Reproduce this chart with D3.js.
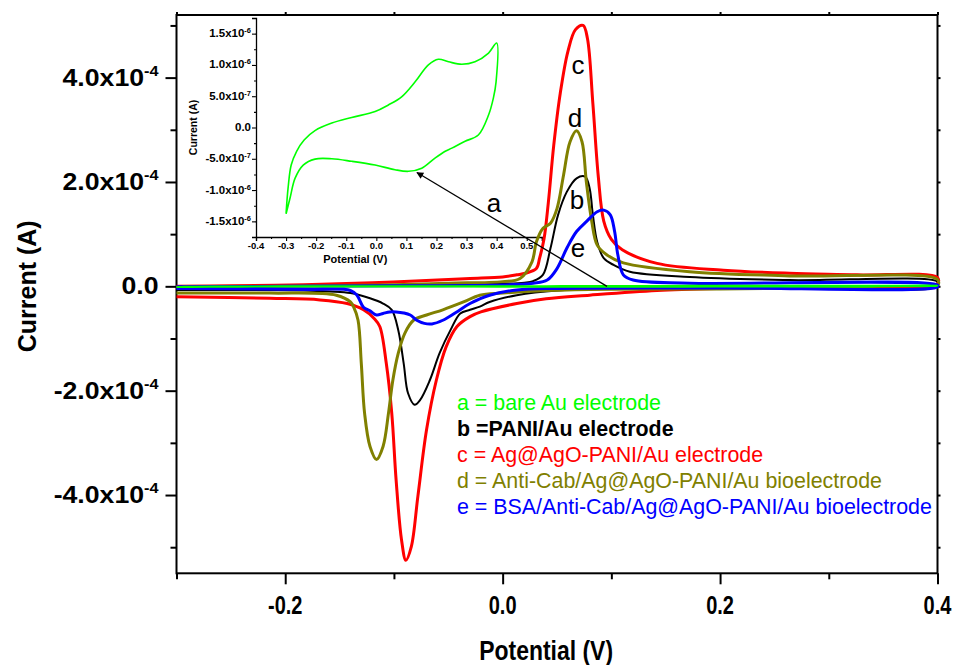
<!DOCTYPE html>
<html>
<head>
<meta charset="utf-8">
<script src="https://cdn.jsdelivr.net/npm/d3@7/dist/d3.min.js"></script>
<style>
  body { margin: 0; background: #fff; }
  svg text { font-family: Arial, "Liberation Sans", sans-serif; }
</style>
</head>
<body>
<svg id="chart" width="958" height="665"></svg>
<script>
// ---- data: [potential (V), current] ----
// main plot currents in units of 1e-4 A, inset currents in 1e-7 A
// each curve: forward sweep -0.3 -> 0.4 V, then back to -0.3 V

// a = bare Au electrode (also the inset curve)
var curveA = [
  [-0.300, -13.7], [-0.293, -9.5], [-0.283, -6.0], [-0.265, -3.8], [-0.240, -2.0],
  [-0.204, -0.5], [-0.148, 0.7], [-0.082, 1.6], [-0.004, 2.55], [0.040, 3.6],
  [0.084, 4.9], [0.129, 7.3], [0.173, 10.0], [0.206, 10.9], [0.240, 10.5],
  [0.284, 10.1], [0.328, 10.5], [0.373, 11.9], [0.400, 13.5],
  [0.398, 7.3], [0.389, 4.7], [0.373, 2.0], [0.339, -1.2], [0.295, -2.2],
  [0.251, -3.3], [0.229, -3.8], [0.195, -4.9], [0.151, -6.5], [0.107, -7.0],
  [0.062, -6.75], [-0.004, -6.0], [-0.082, -5.4], [-0.148, -5.0], [-0.204, -5.05],
  [-0.243, -6.0], [-0.270, -8.1], [-0.287, -11.3], [-0.300, -13.8]
];

// b = PANI/Au electrode
var curveB = [
  [-0.300, 0.00], [-0.200, 0.01], [-0.100, 0.02], [0.000, 0.05], [0.020, 0.07],
  [0.028, 0.10], [0.037, 0.22], [0.044, 0.73], [0.051, 1.37], [0.059, 1.81],
  [0.068, 2.07], [0.076, 2.10], [0.080, 1.88], [0.083, 1.37], [0.087, 0.85],
  [0.093, 0.54], [0.102, 0.41], [0.117, 0.28], [0.172, 0.18], [0.264, 0.12],
  [0.400, 0.09],
  [0.400, 0.02], [0.300, -0.03], [0.200, -0.04], [0.100, -0.05], [0.050, -0.08],
  [0.013, -0.17], [-0.012, -0.30], [-0.021, -0.39], [-0.030, -0.45], [-0.039, -0.52],
  [-0.048, -0.84], [-0.058, -1.28], [-0.067, -1.80], [-0.076, -2.18], [-0.081, -2.27],
  [-0.087, -2.05], [-0.091, -1.48], [-0.096, -0.84], [-0.102, -0.45], [-0.110, -0.33],
  [-0.122, -0.23], [-0.140, -0.13], [-0.159, -0.10], [-0.183, -0.08], [-0.300, -0.07]
];

// c = Ag@AgO-PANI/Au electrode
var curveC = [
  [-0.300, 0.00], [-0.250, 0.01], [-0.183, 0.03], [-0.120, 0.07], [-0.060, 0.12],
  [-0.030, 0.15], [0.000, 0.18], [0.013, 0.22], [0.021, 0.25], [0.031, 0.34],
  [0.034, 0.54], [0.038, 0.90], [0.042, 1.60], [0.047, 2.70], [0.053, 3.70],
  [0.060, 4.50], [0.067, 4.92], [0.074, 5.00], [0.078, 4.75], [0.083, 3.50],
  [0.088, 2.10], [0.093, 1.25], [0.100, 0.90], [0.110, 0.70], [0.142, 0.44],
  [0.203, 0.31], [0.264, 0.25], [0.326, 0.22], [0.400, 0.17],
  [0.400, 0.05], [0.330, -0.01], [0.264, -0.02], [0.203, -0.04], [0.142, -0.08],
  [0.080, -0.17], [0.040, -0.24], [0.013, -0.33], [-0.020, -0.49], [-0.030, -0.58],
  [-0.042, -0.77], [-0.052, -1.16], [-0.061, -1.80], [-0.070, -2.75], [-0.078, -4.03],
  [-0.084, -4.99], [-0.089, -5.25], [-0.093, -4.86], [-0.098, -3.71], [-0.102, -2.43],
  [-0.107, -1.48], [-0.113, -0.77], [-0.118, -0.62], [-0.128, -0.45], [-0.143, -0.33],
  [-0.168, -0.26], [-0.214, -0.23], [-0.300, -0.20]
];

// d = Anti-Cab/Ag@AgO-PANI/Au bioelectrode
var curveD = [
  [-0.300, -0.02], [-0.200, 0.00], [-0.100, 0.03], [-0.050, 0.06], [0.000, 0.09],
  [0.016, 0.15], [0.027, 0.47], [0.031, 0.85], [0.037, 1.11], [0.044, 1.21],
  [0.050, 1.49], [0.056, 2.13], [0.062, 2.77], [0.068, 2.98], [0.073, 2.77],
  [0.077, 2.00], [0.082, 1.24], [0.087, 0.79], [0.096, 0.60], [0.111, 0.45],
  [0.172, 0.28], [0.264, 0.20], [0.400, 0.13],
  [0.400, 0.01], [0.300, -0.03], [0.200, -0.05], [0.080, -0.06], [0.030, -0.09],
  [0.000, -0.13], [-0.021, -0.17], [-0.036, -0.30], [-0.055, -0.45], [-0.070, -0.55],
  [-0.082, -0.65], [-0.090, -0.90], [-0.096, -1.28], [-0.101, -1.80], [-0.105, -2.43],
  [-0.110, -3.07], [-0.116, -3.32], [-0.122, -3.07], [-0.127, -2.43], [-0.130, -1.48],
  [-0.133, -0.65], [-0.137, -0.40], [-0.140, -0.30], [-0.153, -0.17], [-0.214, -0.13],
  [-0.300, -0.13]
];

// e = BSA/Anti-Cab/Ag@AgO-PANI/Au bioelectrode
var curveE = [
  [-0.300, -0.01], [-0.200, 0.00], [-0.100, 0.01], [0.000, 0.025], [0.028, 0.06],
  [0.041, 0.12], [0.050, 0.34], [0.059, 0.73], [0.068, 1.05], [0.077, 1.24],
  [0.087, 1.43], [0.093, 1.46], [0.099, 1.37], [0.103, 1.05], [0.106, 0.60],
  [0.111, 0.22], [0.120, 0.12], [0.172, 0.06], [0.400, 0.025],
  [0.400, -0.01], [0.200, -0.03], [0.050, -0.04], [0.013, -0.07], [-0.012, -0.17],
  [-0.030, -0.33], [-0.043, -0.50], [-0.055, -0.65], [-0.065, -0.72], [-0.072, -0.71],
  [-0.079, -0.65], [-0.085, -0.55], [-0.091, -0.51], [-0.098, -0.49], [-0.104, -0.49],
  [-0.110, -0.52], [-0.116, -0.55], [-0.122, -0.47], [-0.128, -0.40], [-0.134, -0.17],
  [-0.140, -0.08], [-0.183, -0.06], [-0.300, -0.04]
];

var legendLabels = [
  'a = bare Au electrode',
  'b =PANI/Au electrode',
  'c = Ag@AgO-PANI/Au electrode',
  'd = Anti-Cab/Ag@AgO-PANI/Au bioelectrode',
  'e = BSA/Anti-Cab/Ag@AgO-PANI/Au bioelectrode'
];
var seriesColors = ['#00ff00', '#000000', '#ff0000', '#808000', '#0000ff'];

var xTicks = [-0.2, 0.0, 0.2, 0.4];
var xMinorTicks = [-0.3, -0.1, 0.1, 0.3];
var yTicks = [-4, -2, 0, 2, 4];
var yMinorTicks = [-5, -3, -1, 1, 3, 5];
var insetXTicks = [-0.4, -0.3, -0.2, -0.1, 0.0, 0.1, 0.2, 0.3, 0.4, 0.5];
var insetYTicks = [-15, -10, -5, 0, 5, 10, 15];

(function () {
  // ---- layout ----
  var svg = d3.select('#chart');
  var plotL = 176.5, plotR = 937.5, plotT = 15, plotB = 573.3;

  var x = d3.scaleLinear().domain([-0.3, 0.4]).range([plotL, plotR]);
  var y = d3.scaleLinear().domain([-5.5, 5.2]).range([plotB, plotT]);

  var xi = d3.scaleLinear().domain([-0.4, 0.55]).range([256, 541.8]);
  var yi = d3.scaleLinear().domain([-17.5, 17.5]).range([237, 18]);

  function fixed1(d) { return d.toFixed(1); }

  // "4.0x10" + superscript "-4"
  function sciLabel(sel, value, scale, supSize, supDy) {
    if (Math.abs(value) < 1e-12) { sel.text('0.0'); return; }
    var parts = (value * scale).toExponential(1).split('e');
    sel.append('tspan').text(parts[0] + 'x10');
    sel.append('tspan').attr('font-size', supSize).attr('dy', supDy).text(String(+parts[1]));
  }

  // ---- inset ----
  var inset = svg.append('g').attr('class', 'inset');

  inset.append('g')
    .attr('transform', 'translate(0,' + yi(-17.5) + ')')
    .call(d3.axisBottom(xi).tickValues(insetXTicks).tickSize(4).tickFormat(''));
  inset.append('g')
    .attr('transform', 'translate(0,' + yi(-17.5) + ')')
    .call(d3.axisBottom(xi).tickValues(d3.range(-0.35, 0.56, 0.1)).tickSize(2).tickFormat(''))
    .call(function (g) { g.select('.domain').remove(); });
  inset.append('g')
    .attr('transform', 'translate(' + xi(-0.4) + ',0)')
    .call(d3.axisLeft(yi).tickValues(insetYTicks).tickSize(4).tickFormat(''));
  inset.append('g')
    .attr('transform', 'translate(' + xi(-0.4) + ',0)')
    .call(d3.axisLeft(yi).tickValues([-17.5, -12.5, -7.5, -2.5, 2.5, 7.5, 12.5, 17.5]).tickSize(2).tickFormat(''))
    .call(function (g) { g.select('.domain').remove(); });
  inset.selectAll('.domain').attr('stroke-width', 1.3);
  inset.selectAll('line').attr('stroke-width', 1.1);

  inset.selectAll('text.ixt').data(insetXTicks).enter().append('text')
    .attr('class', 'ixt')
    .attr('x', function (d) { return xi(d); })
    .attr('y', yi(-17.5) + 12)
    .attr('text-anchor', 'middle')
    .attr('font-size', 9.5).attr('font-weight', 'bold')
    .text(fixed1);

  inset.selectAll('text.iyt').data(insetYTicks).enter().append('text')
    .attr('class', 'iyt')
    .attr('transform', function (d) { return 'translate(' + (xi(-0.4) - 5) + ',' + (yi(d) + 3.5) + ') scale(1.15,1)'; })
    .attr('text-anchor', 'end')
    .attr('font-size', 10).attr('font-weight', 'bold')
    .each(function (d) { sciLabel(d3.select(this), d, 1e-7, 6.5, -4); });

  inset.append('text')
    .attr('transform', 'translate(197,' + yi(0) + ') rotate(-90)')
    .attr('text-anchor', 'middle')
    .attr('font-size', 10.5).attr('font-weight', 'bold')
    .text('Current (A)');
  inset.append('text')
    .attr('x', xi(-0.07)).attr('y', 263)
    .attr('text-anchor', 'middle')
    .attr('font-size', 11).attr('font-weight', 'bold')
    .text('Potential (V)');

  var lineInset = d3.line()
    .x(function (d) { return xi(d[0]); })
    .y(function (d) { return yi(d[1]); })
    .curve(d3.curveCatmullRom.alpha(0.5));
  inset.append('path')
    .attr('d', lineInset(curveA))
    .attr('fill', 'none').attr('stroke', seriesColors[0]).attr('stroke-width', 1.6);

  // ---- main axes ----
  var axes = svg.append('g').attr('class', 'axes');
  axes.append('g')
    .attr('transform', 'translate(0,' + plotB + ')')
    .call(d3.axisBottom(x).tickValues(xTicks).tickSize(11).tickFormat(''));
  axes.append('g')
    .attr('transform', 'translate(0,' + plotB + ')')
    .call(d3.axisBottom(x).tickValues(xMinorTicks).tickSize(6).tickFormat(''));
  axes.append('g')
    .attr('transform', 'translate(' + plotL + ',0)')
    .call(d3.axisLeft(y).tickValues(yTicks).tickSize(11).tickFormat(''));
  axes.append('g')
    .attr('transform', 'translate(' + plotL + ',0)')
    .call(d3.axisLeft(y).tickValues(yMinorTicks).tickSize(6).tickFormat(''));
  // small mirrored ticks on top and right
  axes.append('g')
    .attr('transform', 'translate(0,' + plotT + ')')
    .call(d3.axisTop(x).tickValues(xTicks.concat(xMinorTicks)).tickSize(3).tickFormat(''));
  axes.append('g')
    .attr('transform', 'translate(' + plotR + ',0)')
    .call(d3.axisRight(y).tickValues(yTicks.concat(yMinorTicks)).tickSize(3).tickFormat(''));
  axes.selectAll('.domain').remove();
  axes.selectAll('line').attr('stroke-width', 2);
  axes.append('rect')
    .attr('x', plotL).attr('y', plotT)
    .attr('width', plotR - plotL).attr('height', plotB - plotT)
    .attr('fill', 'none').attr('stroke', '#000').attr('stroke-width', 2);

  axes.selectAll('text.xt').data(xTicks).enter().append('text')
    .attr('class', 'xt')
    .attr('transform', function (d) { return 'translate(' + x(d) + ',' + (plotB + 41) + ') scale(0.8,1)'; })
    .attr('text-anchor', 'middle')
    .attr('font-size', 25).attr('font-weight', 'bold')
    .text(fixed1);

  axes.selectAll('text.yt').data(yTicks).enter().append('text')
    .attr('class', 'yt')
    .attr('transform', function (d) { return 'translate(' + (plotL - 18) + ',' + (y(d) + 8) + ') scale(1.16,1)'; })
    .attr('text-anchor', 'end')
    .attr('font-size', 23).attr('font-weight', 'bold')
    .each(function (d) { sciLabel(d3.select(this), d, 1e-4, 14, -10); });

  axes.append('text')
    .attr('transform', 'translate(36,' + y(0) + ') rotate(-90)')
    .attr('text-anchor', 'middle')
    .attr('font-size', 25).attr('font-weight', 'bold')
    .text('Current (A)');
  axes.append('text')
    .attr('transform', 'translate(' + x(0.04) + ',660) scale(0.85,1)')
    .attr('text-anchor', 'middle')
    .attr('font-size', 27).attr('font-weight', 'bold')
    .text('Potential (V)');

  // ---- main curves ----
  var line = d3.line()
    .x(function (d) { return x(d[0]); })
    .y(function (d) { return y(d[1]); })
    .curve(d3.curveCatmullRom.alpha(0.5));

  var mainSeries = [
    { data: curveB, color: seriesColors[1], width: 2 },
    { data: curveC, color: seriesColors[2], width: 3 },
    { data: curveD, color: seriesColors[3], width: 3 },
    { data: curveE, color: seriesColors[4], width: 3 },
    // bare Au: currents of order 1e-6 A, flat on this axis (1e-7 -> 1e-4 units)
    { data: curveA.map(function (d) { return [d[0], d[1] / 1000]; }), color: seriesColors[0], width: 2 }
  ];
  svg.append('g').attr('class', 'curves')
    .selectAll('path').data(mainSeries).enter().append('path')
    .attr('d', function (d) { return line(d.data); })
    .attr('fill', 'none')
    .attr('stroke', function (d) { return d.color; })
    .attr('stroke-width', function (d) { return d.width; })
    .attr('stroke-linejoin', 'round');

  // ---- annotations ----
  var defs = svg.append('defs');
  defs.append('marker')
    .attr('id', 'arrow').attr('viewBox', '0 0 10 10')
    .attr('refX', 9).attr('refY', 5)
    .attr('markerWidth', 10).attr('markerHeight', 7)
    .attr('markerUnits', 'userSpaceOnUse')
    .attr('orient', 'auto')
    .append('path').attr('d', 'M0,0 L10,5 L0,10 z').attr('fill', '#000');

  svg.append('line')
    .attr('x1', x(0.096)).attr('y1', y(0))
    .attr('x2', xi(0.135)).attr('y2', yi(-7.2))
    .attr('stroke', '#000').attr('stroke-width', 1.3)
    .attr('marker-end', 'url(#arrow)');

  var curveTags = [
    { t: 'a', v: -0.008, i: 1.6 },
    { t: 'c', v: 0.0693, i: 4.24 },
    { t: 'd', v: 0.0666, i: 3.23 },
    { t: 'b', v: 0.0684, i: 1.65 },
    { t: 'e', v: 0.0693, i: 0.73 }
  ];
  svg.selectAll('text.tag').data(curveTags).enter().append('text')
    .attr('class', 'tag')
    .attr('x', function (d) { return x(d.v); })
    .attr('y', function (d) { return y(d.i) + 9; })
    .attr('text-anchor', 'middle')
    .attr('font-size', 26)
    .text(function (d) { return d.t; });

  // legend
  svg.append('g').attr('class', 'legend')
    .selectAll('text').data(legendLabels).enter().append('text')
    .attr('x', 457)
    .attr('y', function (d, i) { return 410 + i * 26; })
    .attr('font-size', 21.4)
    .attr('font-weight', function (d, i) { return i === 1 ? 'bold' : 'normal'; })
    .attr('fill', function (d, i) { return seriesColors[i]; })
    .text(function (d) { return d; });
})();
</script>
</body>
</html>
